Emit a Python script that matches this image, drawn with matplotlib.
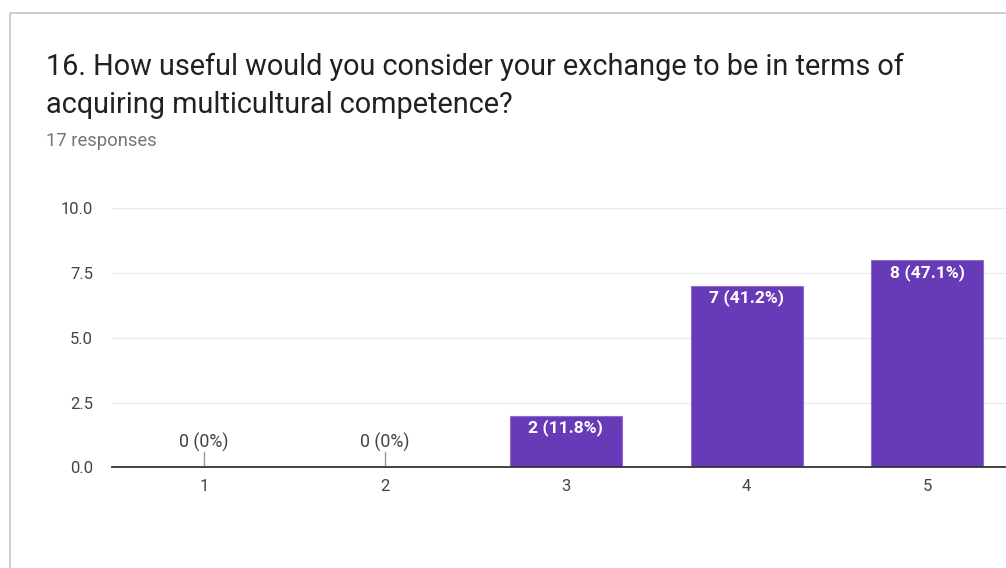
import matplotlib
matplotlib.use("Agg")
import matplotlib.pyplot as plt
from matplotlib.patches import Rectangle

# Survey results
categories = ["1", "2", "3", "4", "5"]
counts = [0, 0, 2, 7, 8]
percents = ["0%", "0%", "11.8%", "41.2%", "47.1%"]
y_ticks = [0.0, 2.5, 5.0, 7.5, 10.0]

title_lines = ["16. How useful would you consider your exchange to be in terms of",
               "acquiring multicultural competence?"]
subtitle = "17 responses"

W, H = 1006, 568
fig = plt.figure(figsize=(W / 100, H / 100), dpi=100)
fig.patch.set_facecolor("white")

# card outline
fig.patches.append(Rectangle((9.5 / W, -0.1), 1.2, (H - 12.5) / H + 0.1,
                             transform=fig.transFigure, fill=False,
                             edgecolor="#c6c6c6", linewidth=1.2))

for i, line in enumerate(title_lines):
    fig.text(46 / W, 1 - (75 + 38 * i) / H, line, ha="left", va="baseline",
             fontsize=20.8, family="Roboto", color="#212121")
fig.text(46 / W, 1 - 146 / H, subtitle, ha="left", va="baseline", fontsize=13.2,
         family="Roboto", color="#757575")

left, right = 112 / W, 1.0
bottom, top = 1 - 467.3 / H, 1 - 208.3 / H
ax = fig.add_axes([left, bottom, right - left, top - bottom])

x = list(range(1, len(categories) + 1))
ax.set_xlim(0.49, 5.435)
ax.set_ylim(0, 10)

bar_color = "#673ab7"
ax.bar(x, counts, width=0.62, color=bar_color, edgecolor="#8e6cd0",
       linewidth=0.8, zorder=3)

for xi, c, p in zip(x, counts, percents):
    label = f"{c} ({p})"
    if c == 0:
        ax.plot([xi, xi], [0, 0.6], color="#999999", lw=1, zorder=2)
        ax.text(xi, 0.745, label, ha="center", va="baseline", fontsize=12.8,
                family="Roboto", color="#444444")
    else:
        ax.text(xi, c - 0.645, label, ha="center", va="baseline", fontsize=12.6,
                family="Roboto", fontweight="bold", color="#ffffff", zorder=4)

ax.set_yticks(y_ticks)
ax.set_yticklabels([f"{v:.1f}" for v in y_ticks])
ax.set_xticks(x)
ax.set_xticklabels(categories)
ax.tick_params(axis="both", length=0, labelsize=12, labelcolor="#444444")
ax.tick_params(axis="y", pad=13.5)
ax.tick_params(axis="x", pad=8.5)
for lab in ax.get_xticklabels() + ax.get_yticklabels():
    lab.set_family("Roboto")

ax.grid(axis="y", color="#ebebeb", linewidth=1, zorder=0)
ax.set_axisbelow(True)
for s in ["top", "right", "left"]:
    ax.spines[s].set_visible(False)
ax.spines["bottom"].set_color("#333333")
ax.spines["bottom"].set_linewidth(1.3)
ax.spines["bottom"].set_zorder(5)

fig.savefig("out.png", dpi=100, facecolor="white")
